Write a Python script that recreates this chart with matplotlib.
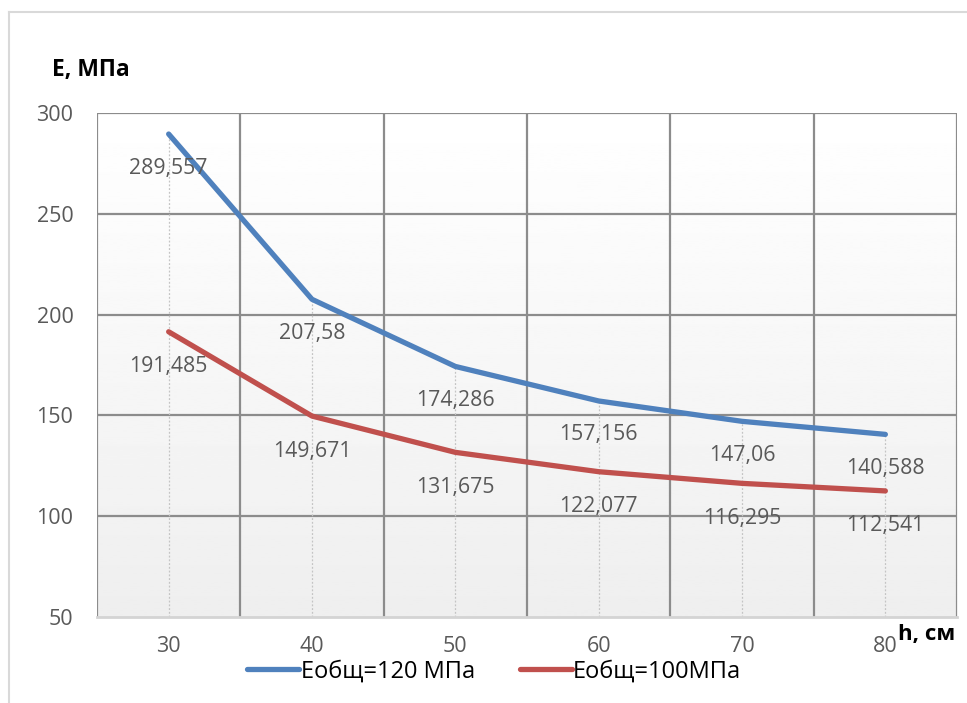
import matplotlib.pyplot as plt
import numpy as np

# thickness h, cm and modulus E, MPa for the two base variants
h_cm = [30, 40, 50, 60, 70, 80]
e_120 = [289.557, 207.58, 174.286, 157.156, 147.06, 140.588]
e_100 = [191.485, 149.671, 131.675, 122.077, 116.295, 112.541]
labels_120 = ["289,557", "207,58", "174,286", "157,156", "147,06", "140,588"]
labels_100 = ["191,485", "149,671", "131,675", "122,077", "116,295", "112,541"]
y_ticks = [50, 100, 150, 200, 250, 300]

plt.rcParams['font.family'] = ['Open Sans', 'DejaVu Sans']

fig = plt.figure(figsize=(9.67, 7.03), dpi=100)
ax = fig.add_axes([0.1003, 0.1223, 0.8894, 0.717])

x = np.arange(len(h_cm))
grid_c = '#8c8c8c'

# soft vertical gradient behind the plot area
grad = np.linspace(1.0, 0.935, 256).reshape(-1, 1)
ax.imshow(grad, extent=[0, 1, 0, 1], transform=ax.transAxes, cmap='gray',
          vmin=0, vmax=1, aspect='auto', zorder=0)

# category boundaries and value gridlines
for b in np.arange(-0.5, len(h_cm), 1.0):
    ax.axvline(b, color=grid_c, lw=1.6, zorder=1)
for t in y_ticks[1:]:
    ax.axhline(t, color=grid_c, lw=1.6, zorder=1)

# drop lines from the top point down to the axis
tops = np.maximum(e_120, e_100)
ax.vlines(x, 50, tops, colors='#c4c4c4', linestyles=(0, (1.5, 1.5)), lw=0.9, zorder=2)

l1, = ax.plot(x, e_120, color='#4f81bd', lw=3.8, solid_capstyle='round',
              solid_joinstyle='round', zorder=3, label='Еобщ=120 МПа')
l2, = ax.plot(x, e_100, color='#c0504d', lw=3.8, solid_capstyle='round',
              solid_joinstyle='round', zorder=3, label='Еобщ=100МПа')

for xi, v, s in zip(x, e_120, labels_120):
    ax.annotate(s, (xi, v), xytext=(0, -34), textcoords='offset pixels',
                ha='center', va='center', fontsize=15.3, color='#595959', zorder=4)
for xi, v, s in zip(x, e_100, labels_100):
    ax.annotate(s, (xi, v), xytext=(0, -35), textcoords='offset pixels',
                ha='center', va='center', fontsize=15.3, color='#595959', zorder=4)

ax.set_xlim(-0.5, len(h_cm) - 0.5)
ax.set_ylim(50, 300)
ax.set_xticks(x, [str(v) for v in h_cm])
ax.set_yticks(y_ticks)
ax.tick_params(length=0, labelsize=15.5, labelcolor='#595959')
ax.tick_params(axis='y', pad=17)
ax.tick_params(axis='x', pad=14)

for side in ['top', 'right', 'left']:
    ax.spines[side].set_visible(False)
ax.spines['bottom'].set_color('#d4d4d4')
ax.spines['bottom'].set_linewidth(2)
ax.spines['bottom'].set_zorder(5)

fig.text(0.054, 0.90, 'E, МПа', fontsize=16.5, fontweight='bold', ha='left', va='center')
fig.text(0.988, 0.097, 'h, см', fontsize=16, fontweight='bold', ha='right', va='center')

fig.legend(handles=[l1, l2], loc='center', bbox_to_anchor=(0.511, 0.045), ncol=2,
           frameon=False, fontsize=17, handlelength=2.2, handletextpad=0.05,
           columnspacing=1.9)

# outer chart frame
fig.add_artist(plt.Line2D([0.009, 0.009], [0, 0.983], transform=fig.transFigure,
                          color='#d9d9d9', lw=1.5))
fig.add_artist(plt.Line2D([0.009, 1.0], [0.983, 0.983], transform=fig.transFigure,
                          color='#d9d9d9', lw=1.5))

fig.savefig('out.png', dpi=100)
